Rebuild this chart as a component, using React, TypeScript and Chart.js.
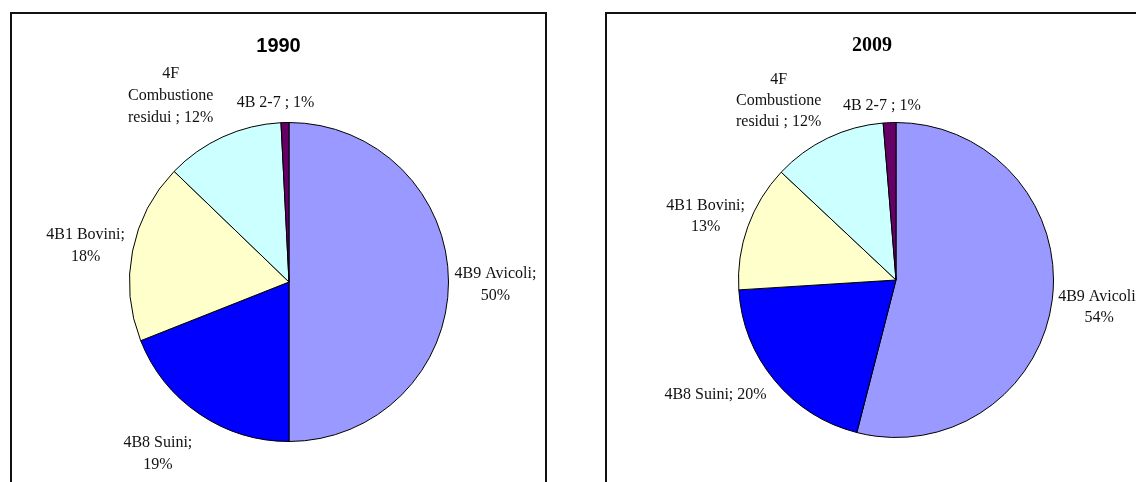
import React, { useEffect, useRef } from "react";
import { Chart, registerables } from "chart.js";

Chart.register(...registerables);

// ---- data ----
const categories = ["4B9 Avicoli", "4B8 Suini", "4B1 Bovini", "4F Combustione residui ", "4B 2-7 "];
const values1990 = [50.0, 19.0, 18.2, 12.0, 0.8];
const values2009 = [54.0, 20.0, 13.0, 11.7, 1.3];
const titles = ["1990", "2009"];
const sliceColors = ["#9999FF", "#0000FF", "#FFFFCC", "#CCFFFF", "#660066"];

// words per line for each data label (Excel-like wrapping)
const wrap1990 = [[2, 1], [2, 1], [2, 1], [1, 1, 3], [4]];
const wrap2009 = [[2, 1], [3], [2, 1], [1, 1, 3], [4]];

const W = 1136;
const H = 482;

type Layout = {
  panelLeft: number;
  panelTop: number;
  panelWidth: number;
  cx: number;
  cy: number;
  r: number;
  titleFont: string;
  titleY: number;
  gap: number;
  lineH: number;
  nudges: number[][];
  wrap: number[][];
};

const layout1990: Layout = {
  panelLeft: 10,
  panelTop: 12,
  panelWidth: 537,
  cx: 289,
  cy: 282,
  r: 160,
  titleFont: 'bold 20px "Liberation Sans", Arial, sans-serif',
  titleY: 46,
  gap: 6,
  lineH: 22,
  nudges: [[0, 3], [-17, 4], [1, 4], [-30, 8], [-9, -2]],
  wrap: wrap1990,
};

const layout2009: Layout = {
  panelLeft: 605,
  panelTop: 12,
  panelWidth: 534,
  cx: 896,
  cy: 280,
  r: 158,
  titleFont: 'bold 20px "Liberation Serif", "Times New Roman", serif',
  titleY: 46,
  gap: 6,
  lineH: 21,
  nudges: [[-2, 1], [-19, -19], [5, 7], [-26, 10], [-7, 1]],
  wrap: wrap2009,
};

const labelPlugin = {
  id: "pieLabels",
  afterDraw(chart: any, _args: any, opts: any) {
    const L: Layout = opts.layout;
    const ctx = chart.ctx;
    const meta = chart.getDatasetMeta(0);
    const data: number[] = chart.data.datasets[0].data;
    const labels: string[] = chart.data.labels;
    const total = data.reduce((a, b) => a + b, 0);
    ctx.save();
    // title
    ctx.font = L.titleFont;
    ctx.fillStyle = "#000";
    ctx.textAlign = "center";
    ctx.textBaseline = "middle";
    ctx.fillText(opts.title, L.panelLeft + L.panelWidth / 2, L.titleY);

    ctx.font = '16px "Liberation Serif", "Times New Roman", serif';
    ctx.fillStyle = "#111";
    meta.data.forEach((arc: any, i: number) => {
      const p = arc.getProps(["x", "y", "startAngle", "endAngle", "outerRadius"], true);
      const mid = (p.startAngle + p.endAngle) / 2;
      const ux = Math.cos(mid);
      const uy = Math.sin(mid);
      const pct = Math.round((data[i] / total) * 100);
      const words = `${labels[i]}; ${pct}%`.split(/\s+/).filter((s) => s.length);
      const lines: string[] = [];
      let k = 0;
      for (const n of L.wrap[i]) {
        lines.push(words.slice(k, k + n).join(" "));
        k += n;
      }
      const w = Math.max(...lines.map((s) => ctx.measureText(s).width));
      const h = lines.length * L.lineH;
      const support = (Math.abs(ux) * w) / 2 + (Math.abs(uy) * h) / 2;
      const d = p.outerRadius + L.gap + support;
      const [nx, ny] = L.nudges[i];
      const cx = p.x + ux * d + nx;
      const cy = p.y + uy * d + ny;
      lines.forEach((ln, j) => {
        ctx.fillText(ln, cx, cy - h / 2 + L.lineH / 2 + j * L.lineH);
      });
    });
    ctx.restore();
  },
};

function PieChart({ values, title, layout }: { values: number[]; title: string; layout: Layout }) {
  const ref = useRef<HTMLCanvasElement | null>(null);
  useEffect(() => {
    if (!ref.current) return;
    const L = layout;
    const chart = new Chart(ref.current, {
      type: "pie",
      data: {
        labels: categories,
        datasets: [
          {
            data: values,
            backgroundColor: sliceColors,
            borderColor: "#000",
            borderWidth: 1,
          },
        ],
      },
      options: {
        responsive: false,
        animation: false,
        devicePixelRatio: 1,
        events: [],
        layout: {
          padding: {
            left: L.cx - L.r,
            right: W - (L.cx + L.r),
            top: L.cy - L.r,
            bottom: H - (L.cy + L.r),
          },
        },
        plugins: {
          legend: { display: false },
          tooltip: { enabled: false },
          title: { display: false },
          pieLabels: { layout: L, title },
        } as any,
      },
      plugins: [labelPlugin],
    });
    return () => chart.destroy();
  }, [values, title, layout]);
  return (
    <canvas
      ref={ref}
      width={W}
      height={H}
      style={{ position: "absolute", left: 0, top: 0, width: W, height: H }}
    />
  );
}

export default function App() {
  const panel = (L: Layout) => (
    <div
      style={{
        position: "absolute",
        left: L.panelLeft,
        top: L.panelTop,
        width: L.panelWidth,
        height: H,
        border: "2px solid #111",
        boxSizing: "border-box",
      }}
    />
  );
  return (
    <div
      style={{
        position: "absolute",
        left: 0,
        top: 0,
        width: W,
        height: H,
        overflow: "hidden",
        background: "#fff",
      }}
    >
      {panel(layout1990)}
      {panel(layout2009)}
      <PieChart values={values1990} title={titles[0]} layout={layout1990} />
      <PieChart values={values2009} title={titles[1]} layout={layout2009} />
    </div>
  );
}
